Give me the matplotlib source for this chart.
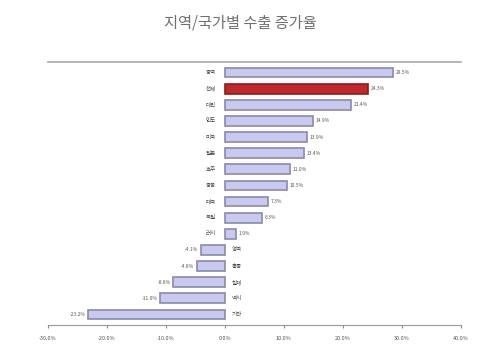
import numpy as np
import matplotlib.pyplot as plt

plt.rcParams['font.family'] = ['Noto Sans CJK KR', 'DejaVu Sans']

# data (top to bottom)
regions = ['중국', '전체', '대만', '인도', '미국', '일본', '호주', '중동',
           '태국', '독일', '러시', '영국', '홍콩', '칠레', '멕시', '기타']
growth = [28.5, 24.3, 21.4, 14.9, 13.9, 13.4, 11.0, 10.5,
          7.3, 6.3, 1.9, -4.1, -4.8, -8.8, -11.0, -23.2]
highlight = '전체'
xticks = [-30, -20, -10, 0, 10, 20, 30, 40]

fig = plt.figure(figsize=(4.8, 3.49), dpi=100)
ax = fig.add_axes([0.1, 0.069, 0.86, 0.753])

y = np.arange(len(regions))
colors = ['#c0282c' if r == highlight else '#c8c8f0' for r in regions]
edges = ['#8c1c1c' if r == highlight else '#8a8aa8' for r in regions]
ax.barh(y, growth, height=0.6, color=colors, edgecolor=edges, linewidth=1.2)

for yi, v, name in zip(y, growth, regions):
    if v >= 0:
        ax.text(v + 0.4, yi, f'{v:.1f}%', va='center', ha='left', fontsize=3.5, color='#555555')
        ax.text(-1.5, yi, name, va='center', ha='right', fontsize=4, color='#444444')
    else:
        ax.text(v - 0.4, yi, f'{v:.1f}%', va='center', ha='right', fontsize=3.5, color='#555555')
        ax.text(1.2, yi, name, va='center', ha='left', fontsize=4, color='#444444')

ax.set_xlim(-30, 40)
ax.set_ylim(len(regions) - 0.35, -0.65)
ax.set_xticks(xticks)
ax.set_xticklabels([f'{t:.1f}%' for t in xticks], fontsize=4, color='#555555')
ax.set_yticks([])
ax.tick_params(axis='x', length=2, color='#888888', pad=6)

for s in ['left', 'right']:
    ax.spines[s].set_visible(False)
ax.spines['top'].set_color('#aaaaaa')
ax.spines['bottom'].set_color('#999999')
ax.spines['top'].set_linewidth(1.2)

fig.text(0.5, 0.935, '지역/국가별 수출 증가율', ha='center', va='center',
         fontsize=11, color='#707070')

fig.savefig('out.png', dpi=100)
